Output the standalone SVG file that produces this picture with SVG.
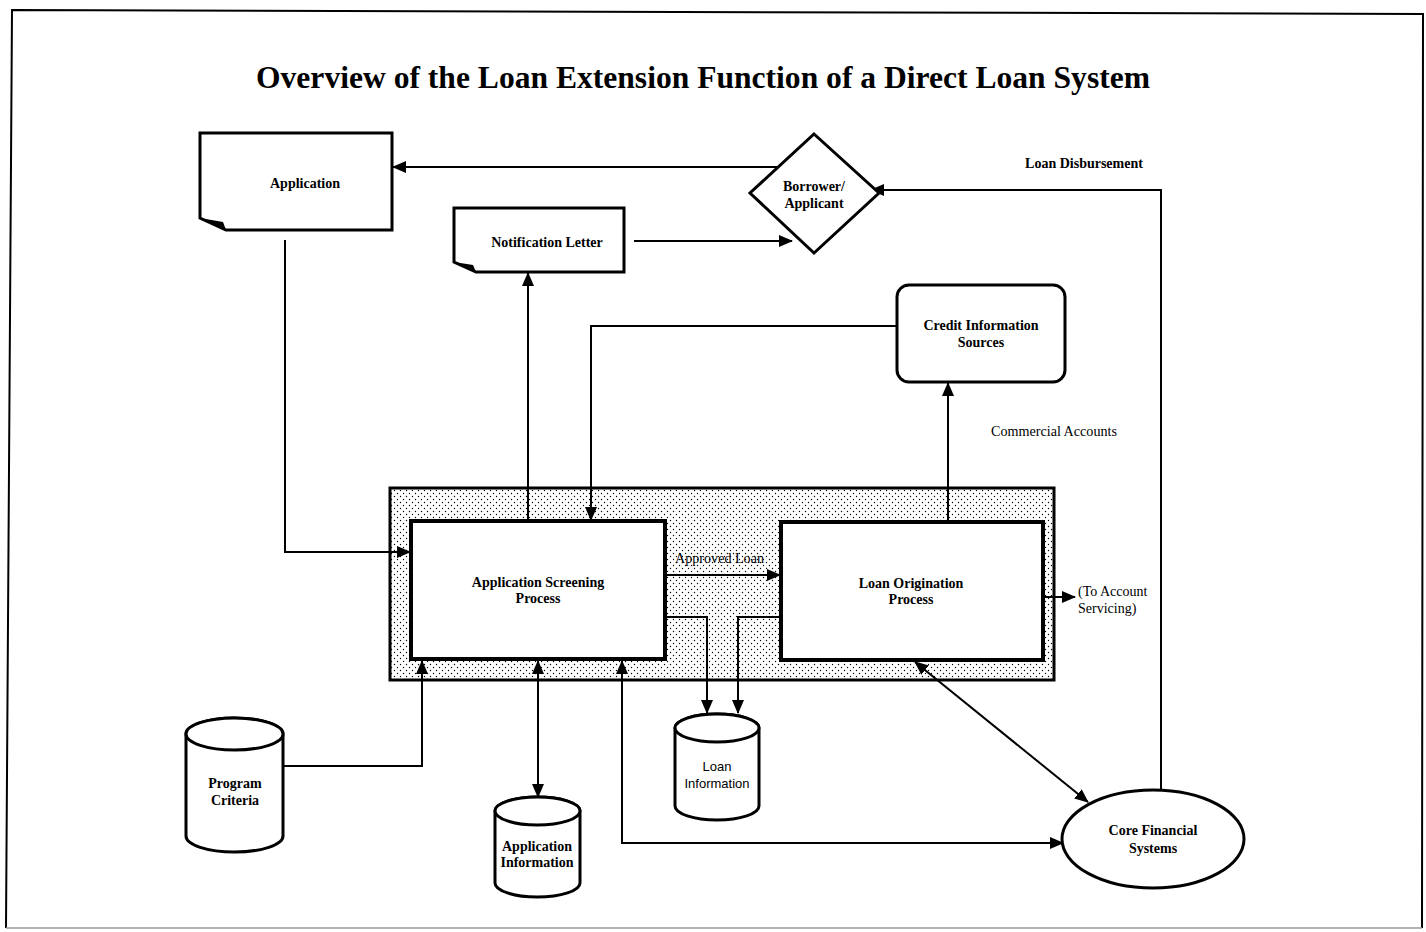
<svg xmlns="http://www.w3.org/2000/svg" width="1426" height="932" viewBox="0 0 1426 932">
<defs>
<style>
.lbl{font-family:"Liberation Serif","Times New Roman",serif;font-weight:bold;font-size:14px;fill:#000;text-anchor:middle}
.reg{font-family:"Liberation Serif","Times New Roman",serif;font-size:14px;fill:#000}
.sans{font-family:"Liberation Sans",Arial,sans-serif;font-size:13px;fill:#000;text-anchor:middle}
.node{fill:#fff;stroke:#000;stroke-width:3}
.proc{fill:#fff;stroke:#000;stroke-width:4}
.con{fill:none;stroke:#000;stroke-width:2}
</style>
<pattern id="dots" width="6" height="6" patternUnits="userSpaceOnUse">
<rect width="6" height="6" fill="#fff"/>
<circle cx="1.5" cy="1.5" r="0.7" fill="#000"/>
<circle cx="4.5" cy="4.5" r="0.7" fill="#000"/>
</pattern>
<marker id="ah" viewBox="0 0 14 12" refX="13" refY="6" markerWidth="14" markerHeight="12" markerUnits="userSpaceOnUse" orient="auto-start-reverse">
<path d="M0,0 L14,6 L0,12 z" fill="#000"/>
</marker>
</defs>
<rect width="1426" height="932" fill="#fff"/>
<polyline points="6,928 12,10 1423,14 1422,928" fill="none" stroke="#000" stroke-width="2"/>
<line x1="6" y1="928" x2="1422" y2="928" stroke="#999" stroke-width="1.5"/>
<text x="703" y="88" font-family="Liberation Serif,'Times New Roman',serif" font-weight="bold" font-size="31" text-anchor="middle" textLength="894" lengthAdjust="spacingAndGlyphs">Overview of the Loan Extension Function of a Direct Loan System</text>

<g id="group-shaded">
<rect x="390" y="488" width="664" height="192" fill="url(#dots)" stroke="#000" stroke-width="3"/>
</g>

<g id="connectors">
<line class="con" x1="778" y1="167" x2="393" y2="167" marker-end="url(#ah)"/>
<polyline class="con" points="1161,790 1161,190 871,190" marker-end="url(#ah)"/>
<line class="con" x1="634" y1="241" x2="792" y2="241" marker-end="url(#ah)"/>
<polyline class="con" points="285,240 285,552 410,552" marker-end="url(#ah)"/>
<line class="con" x1="528" y1="520" x2="528" y2="273" marker-end="url(#ah)"/>
<polyline class="con" points="897,326 591,326 591,520" marker-end="url(#ah)"/>
<line class="con" x1="948" y1="521" x2="948" y2="383" marker-end="url(#ah)"/>
<line class="con" x1="666" y1="575" x2="780" y2="575" marker-end="url(#ah)"/>
<polyline class="con" points="666,617 707,617 707,713" marker-end="url(#ah)"/>
<polyline class="con" points="780,617 738,617 738,713" marker-end="url(#ah)"/>
<line class="con" x1="1044" y1="597" x2="1075" y2="597" marker-end="url(#ah)"/>
<polyline class="con" points="283,766 422,766 422,661" marker-end="url(#ah)"/>
<line class="con" x1="538" y1="661" x2="538" y2="797" marker-start="url(#ah)" marker-end="url(#ah)"/>
<polyline class="con" points="622,661 622,843 1063,843" marker-start="url(#ah)" marker-end="url(#ah)"/>
<line class="con" x1="915" y1="662" x2="1088" y2="802" marker-start="url(#ah)" marker-end="url(#ah)"/>
<text class="lbl" x="1084" y="168">Loan Disbursement</text>
<text class="reg" x="1054" y="436" text-anchor="middle" textLength="126" lengthAdjust="spacingAndGlyphs">Commercial Accounts</text>
<text class="reg" x="675" y="563" textLength="89" lengthAdjust="spacingAndGlyphs">Approved Loan</text>
<text class="reg" x="1078" y="596" font-size="13">(To Account</text>
<text class="reg" x="1078" y="613" font-size="13">Servicing)</text>
</g>

<g id="application">
<path class="node" d="M200,133 H392 V230 H226 L200,218 Z"/>
<path d="M200,218 L223,222 L226,230 Z" fill="#000"/>
<text class="lbl" x="305" y="188">Application</text>
</g>

<g id="borrower">
<polygon class="node" points="814,134 879,193 814,253 750,193"/>
<text class="lbl" x="814" y="191">Borrower/</text>
<text class="lbl" x="814" y="208">Applicant</text>
</g>

<g id="notification">
<path class="node" d="M454,208 H624 V272 H476 L454,262 Z"/>
<path d="M454,262 L473,265 L476,272 Z" fill="#000"/>
<text class="lbl" x="547" y="247">Notification Letter</text>
</g>

<g id="credit">
<rect class="node" x="897" y="285" width="168" height="97" rx="12" ry="12"/>
<text class="lbl" x="981" y="330">Credit Information</text>
<text class="lbl" x="981" y="347">Sources</text>
</g>

<g id="screening">
<rect class="proc" x="411" y="521" width="254" height="138"/>
<text class="lbl" x="538" y="587">Application Screening</text>
<text class="lbl" x="538" y="603">Process</text>
</g>

<g id="origination">
<rect class="proc" x="781" y="522" width="262" height="138"/>
<text class="lbl" x="911" y="588">Loan Origination</text>
<text class="lbl" x="911" y="604">Process</text>
</g>

<g id="program-criteria">
<path class="node" d="M186,734 A48.5,16 0 0 1 283,734 V836 A48.5,16 0 0 1 186,836 Z"/>
<ellipse class="node" cx="234.5" cy="734" rx="48.5" ry="16" fill="none"/>
<text class="lbl" x="235" y="788">Program</text>
<text class="lbl" x="235" y="805">Criteria</text>
</g>

<g id="application-information">
<path class="node" d="M495,811 A42.5,14 0 0 1 580,811 V883 A42.5,14 0 0 1 495,883 Z"/>
<ellipse class="node" cx="537.5" cy="811" rx="42.5" ry="14" fill="none"/>
<text class="lbl" x="537" y="851">Application</text>
<text class="lbl" x="537" y="867">Information</text>
</g>

<g id="loan-information">
<path class="node" d="M675,728 A42,14 0 0 1 759,728 V806 A42,14 0 0 1 675,806 Z"/>
<ellipse class="node" cx="717" cy="728" rx="42" ry="14" fill="none"/>
<text class="sans" x="717" y="771">Loan</text>
<text class="sans" x="717" y="788">Information</text>
</g>

<g id="core-financial">
<ellipse class="node" cx="1153" cy="839" rx="91" ry="49"/>
<text class="lbl" x="1153" y="835">Core Financial</text>
<text class="lbl" x="1153" y="853">Systems</text>
</g>
</svg>
